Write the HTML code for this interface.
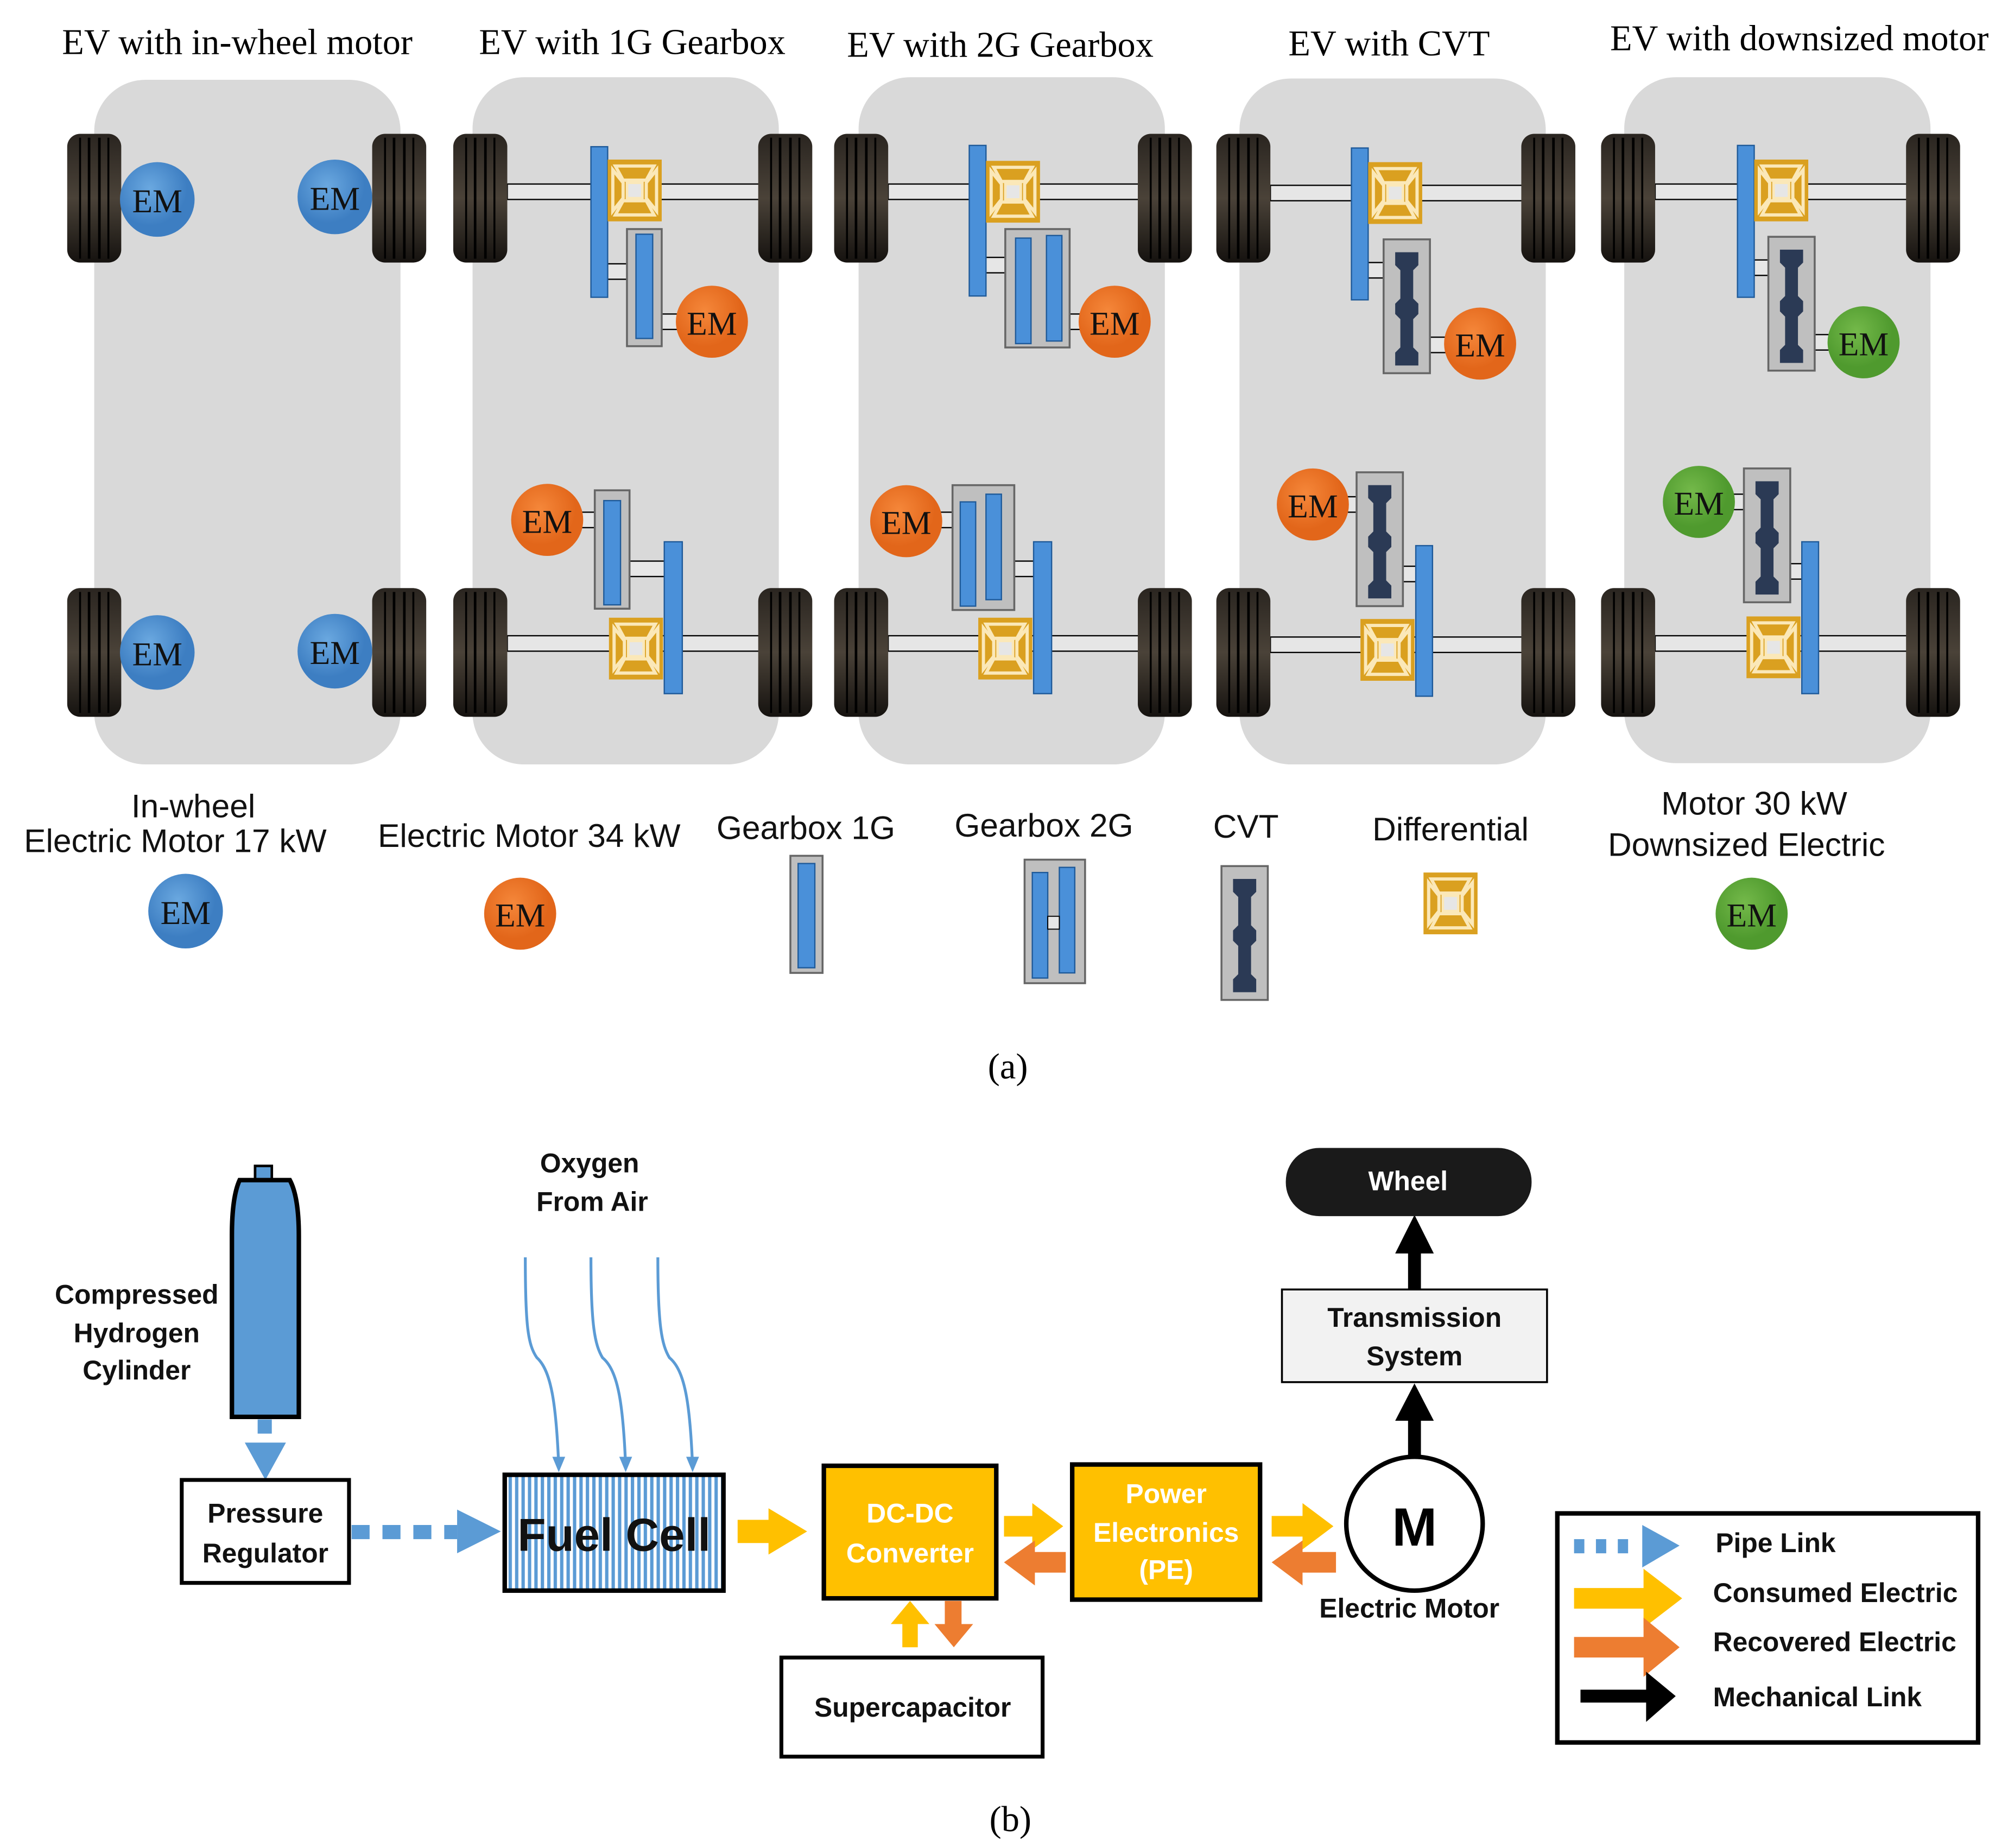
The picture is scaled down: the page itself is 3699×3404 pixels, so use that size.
<!DOCTYPE html>
<html><head><meta charset="utf-8"><style>
html,body{margin:0;padding:0;background:#fff}
svg{display:block}
.t{font-family:"Liberation Serif",serif;font-size:28px;fill:#000}
.s{font-family:"Liberation Sans",sans-serif;font-size:25.5px;fill:#111}
.b{font-family:"Liberation Sans Narrow","Liberation Sans",sans-serif;font-weight:bold;fill:#111}
.em{font-family:"Liberation Serif",serif;font-size:26px;fill:#111;text-anchor:middle}
</style></head><body>
<svg width="3699" height="3404" viewBox="0 0 1560 1436" xmlns="http://www.w3.org/2000/svg">
<defs>
<linearGradient id="tg" x1="0" y1="0" x2="0" y2="1"><stop offset="0" stop-color="#2a2520"/><stop offset="0.5" stop-color="#4a4238"/><stop offset="1" stop-color="#15120f"/></linearGradient>
<g id="wheel"><rect x="0" y="0" width="42" height="100" rx="10" fill="url(#tg)"/>
<line x1="10" y1="3" x2="10" y2="97" stroke="#000" stroke-width="1.5"/><line x1="17" y1="3" x2="17" y2="97" stroke="#000" stroke-width="2"/><line x1="25" y1="3" x2="25" y2="97" stroke="#000" stroke-width="2"/><line x1="32" y1="3" x2="32" y2="97" stroke="#000" stroke-width="1.5"/></g>
<g id="diff"><rect width="42" height="48" fill="#daa020"/><path d="M6 5H36L30 16H12Z M6 43H36L30 32H12Z M4 8L12 18V30L4 40Z M38 8L30 18V30L38 40Z" fill="none" stroke="#fbe8b8" stroke-width="2.5"/><rect x="15" y="18" width="12" height="12" fill="#e6e6e6" stroke="#fbe8b8" stroke-width="2"/></g>
<g id="cvt"><rect width="36" height="104" fill="#bfbfbf" stroke="#666" stroke-width="1.5"/><path d="M9 10h18v10l-4 4v22l4 4v8l-4 4v22l4 4v10H9v-10l4-4V62l-4-4v-8l4-4V24l-4-4z" fill="#2b3a55"/></g>
<radialGradient id="gb" cx="0.4" cy="0.35"><stop offset="0" stop-color="#6aa8e0"/><stop offset="1" stop-color="#3d7ec2"/></radialGradient>
<radialGradient id="go" cx="0.4" cy="0.35"><stop offset="0" stop-color="#f5873a"/><stop offset="1" stop-color="#e2661a"/></radialGradient>
<radialGradient id="gg" cx="0.4" cy="0.35"><stop offset="0" stop-color="#74b94a"/><stop offset="1" stop-color="#4f9a2e"/></radialGradient>
</defs>
<text class="t" x="48" y="42">EV with in-wheel motor</text>
<text class="t" x="372" y="42">EV with 1G Gearbox</text>
<text class="t" x="658" y="44">EV with 2G Gearbox</text>
<text class="t" x="1001" y="43">EV with CVT</text>
<text class="t" x="1251" y="39">EV with downsized motor</text>
<g fill="#d9d9d9">
<rect x="73" y="62" width="238" height="532" rx="40"/>
<rect x="367" y="60" width="238" height="534" rx="40"/>
<rect x="667" y="60" width="238" height="534" rx="40"/>
<rect x="963" y="61" width="238" height="533" rx="40"/>
<rect x="1262" y="60" width="238" height="533" rx="40"/>
</g>
<g fill="#e6e6e6" stroke="#000" stroke-width="1">
<rect x="394" y="143" width="196" height="12"/><rect x="394" y="494" width="196" height="12"/>
<rect x="690" y="143" width="196" height="12"/><rect x="690" y="494" width="196" height="12"/>
<rect x="987" y="144" width="196" height="12"/><rect x="987" y="495" width="196" height="12"/>
<rect x="1286" y="143" width="196" height="12"/><rect x="1286" y="494" width="196" height="12"/>
</g>
<use href="#wheel" x="52" y="104"/><use href="#wheel" x="289" y="104"/><use href="#wheel" x="52" y="457"/><use href="#wheel" x="289" y="457"/>
<use href="#wheel" x="352" y="104"/><use href="#wheel" x="589" y="104"/><use href="#wheel" x="352" y="457"/><use href="#wheel" x="589" y="457"/>
<use href="#wheel" x="648" y="104"/><use href="#wheel" x="884" y="104"/><use href="#wheel" x="648" y="457"/><use href="#wheel" x="884" y="457"/>
<use href="#wheel" x="945" y="104"/><use href="#wheel" x="1182" y="104"/><use href="#wheel" x="945" y="457"/><use href="#wheel" x="1182" y="457"/>
<use href="#wheel" x="1244" y="104"/><use href="#wheel" x="1481" y="104"/><use href="#wheel" x="1244" y="457"/><use href="#wheel" x="1481" y="457"/>
<g fill="#e6e6e6" stroke="#000" stroke-width="1">
<rect x="472" y="205" width="16" height="12"/><rect x="507" y="244" width="20" height="12"/>
<rect x="450" y="398" width="14" height="12"/><rect x="489" y="436" width="28" height="12"/>
<rect x="766" y="200" width="16" height="12"/><rect x="826" y="244" width="16" height="12"/>
<rect x="728" y="398" width="14" height="12"/><rect x="788" y="436" width="16" height="12"/>
<rect x="1063" y="204" width="14" height="12"/><rect x="1110" y="262" width="16" height="12"/>
<rect x="1044" y="386" width="12" height="12"/><rect x="1090" y="440" width="12" height="12"/>
<rect x="1363" y="202" width="14" height="12"/><rect x="1409" y="260" width="16" height="12"/>
<rect x="1344" y="384" width="12" height="12"/><rect x="1390" y="438" width="12" height="12"/>
</g>
<g fill="#bfbfbf" stroke="#666" stroke-width="1.5">
<rect x="487" y="178" width="27" height="91"/><rect x="462" y="381" width="27" height="92"/>
<rect x="781" y="178" width="50" height="92"/><rect x="740" y="377" width="48" height="97"/>
</g>
<use href="#cvt" x="1075" y="186"/><use href="#cvt" x="1054" y="367"/>
<use href="#cvt" x="1374" y="184"/><use href="#cvt" x="1355" y="364"/>
<g fill="#4a90d9" stroke="#1f5a99" stroke-width="1">
<rect x="459" y="114" width="13" height="117"/><rect x="494" y="182" width="13" height="81"/>
<rect x="516" y="421" width="14" height="118"/><rect x="469" y="389" width="13" height="81"/>
<rect x="753" y="113" width="13" height="117"/><rect x="789" y="185" width="12" height="82"/><rect x="813" y="183" width="12" height="82"/>
<rect x="803" y="421" width="14" height="118"/><rect x="746" y="390" width="12" height="81"/><rect x="766" y="384" width="12" height="82"/>
<rect x="1050" y="115" width="13" height="118"/><rect x="1100" y="424" width="13" height="117"/>
<rect x="1350" y="113" width="13" height="118"/><rect x="1400" y="421" width="13" height="118"/>
</g>
<use href="#diff" x="472" y="124"/><use href="#diff" x="473" y="480"/>
<use href="#diff" x="766" y="125"/><use href="#diff" x="760" y="480"/>
<use href="#diff" x="1063" y="126"/><use href="#diff" x="1057" y="481"/>
<use href="#diff" x="1363" y="124"/><use href="#diff" x="1357" y="479"/>
<g fill="url(#gb)"><circle cx="122" cy="155" r="29"/><circle cx="260" cy="153" r="29"/><circle cx="122" cy="507" r="29"/><circle cx="260" cy="506" r="29"/><circle cx="144" cy="708" r="29"/></g>
<g fill="url(#go)"><circle cx="553" cy="250" r="28"/><circle cx="425" cy="404" r="28"/><circle cx="866" cy="250" r="28"/><circle cx="704" cy="405" r="28"/><circle cx="1150" cy="267" r="28"/><circle cx="1020" cy="392" r="28"/><circle cx="404" cy="710" r="28"/></g>
<g fill="url(#gg)"><circle cx="1448" cy="266" r="28"/><circle cx="1320" cy="390" r="28"/><circle cx="1361" cy="710" r="28"/></g>
<g class="em">
<text x="122" y="165">EM</text><text x="260" y="163">EM</text><text x="122" y="517">EM</text><text x="260" y="516">EM</text><text x="144" y="718">EM</text>
<text x="553" y="260">EM</text><text x="425" y="414">EM</text><text x="866" y="260">EM</text><text x="704" y="415">EM</text><text x="1150" y="277">EM</text><text x="1020" y="402">EM</text><text x="404" y="720">EM</text>
<text x="1448" y="276">EM</text><text x="1320" y="400">EM</text><text x="1361" y="720">EM</text>
</g>
<text class="s" x="150" y="635" text-anchor="middle">In-wheel</text>
<text class="s" x="136" y="662" text-anchor="middle">Electric Motor 17 kW</text>
<text class="s" x="411" y="658" text-anchor="middle">Electric Motor 34 kW</text>
<text class="s" x="626" y="652" text-anchor="middle">Gearbox 1G</text>
<text class="s" x="811" y="650" text-anchor="middle">Gearbox 2G</text>
<text class="s" x="968" y="651" text-anchor="middle">CVT</text>
<text class="s" x="1127" y="653" text-anchor="middle">Differential</text>
<text class="s" x="1363" y="633" text-anchor="middle">Motor 30 kW</text>
<text class="s" x="1357" y="665" text-anchor="middle">Downsized Electric</text>
<rect x="614" y="665" width="25" height="91" fill="#bfbfbf" stroke="#666" stroke-width="1.5"/>
<rect x="620" y="671" width="13" height="81" fill="#4a90d9" stroke="#1f5a99"/>
<rect x="796" y="668" width="47" height="96" fill="#bfbfbf" stroke="#666" stroke-width="1.5"/>
<rect x="802" y="678" width="12" height="82" fill="#4a90d9" stroke="#1f5a99"/><rect x="823" y="674" width="12" height="82" fill="#4a90d9" stroke="#1f5a99"/>
<rect x="814" y="712" width="9" height="10" fill="#e6e6e6" stroke="#000" stroke-width="0.8"/>
<use href="#cvt" x="949" y="673"/>
<use href="#diff" x="1106" y="678"/>
<text class="t" x="783" y="838" text-anchor="middle">(a)</text>
<text class="t" x="785" y="1423" text-anchor="middle">(b)</text>

<g class="b" font-size="21" text-anchor="middle">
<text x="106" y="1013">Compressed</text><text x="106" y="1043">Hydrogen</text><text x="106" y="1072">Cylinder</text>
<text x="458" y="911">Oxygen</text><text x="460" y="941">From Air</text>
</g>
<rect x="198" y="906" width="13" height="12" fill="#5b9bd5" stroke="#000" stroke-width="2"/>
<path d="M186 917H225Q232 930 232 960V1101H180V960Q180 930 186 917Z" fill="#5b9bd5" stroke="#000" stroke-width="3.5"/>
<rect x="200" y="1103" width="11" height="11" fill="#5b9bd5"/>
<path d="M190 1121H222L206 1150Z" fill="#5b9bd5"/>
<rect x="141" y="1150" width="130" height="80" fill="#fff" stroke="#000" stroke-width="3"/>
<g class="b" font-size="21" text-anchor="middle"><text x="206" y="1183">Pressure</text><text x="206" y="1214">Regulator</text></g>
<g fill="#5b9bd5"><rect x="273" y="1185" width="14" height="11"/><rect x="297" y="1185" width="14" height="11"/><rect x="321" y="1185" width="14" height="11"/><rect x="345" y="1185" width="10" height="11"/><path d="M355 1173L389 1190L355 1207Z"/></g>
<g fill="none" stroke="#5b9bd5" stroke-width="2.2">
<path d="M408 977C408 1030 410 1045 417 1055C428 1065 432 1090 434 1140"/>
<path d="M459 977C459 1030 462 1045 468 1055C480 1065 484 1090 486 1140"/>
<path d="M511 977C511 1030 514 1045 520 1055C532 1065 536 1090 538 1140"/>
</g>
<g fill="#5b9bd5"><path d="M429 1132h10l-5 12z"/><path d="M481 1132h10l-5 12z"/><path d="M533 1132h10l-5 12z"/></g>
<defs><pattern id="vs" width="5" height="10" patternUnits="userSpaceOnUse"><rect width="5" height="10" fill="#fff"/><rect width="2.6" height="10" fill="#5b9bd5"/></pattern></defs>
<rect x="392" y="1146" width="170" height="90" fill="url(#vs)" stroke="#000" stroke-width="3.5"/>
<text class="b" x="477" y="1205" font-size="36" text-anchor="middle">Fuel Cell</text>
<path d="M573 1181H597V1172L627 1190L597 1208V1199H573Z" fill="#ffc000"/>
<rect x="640" y="1139" width="134" height="103" fill="#ffc000" stroke="#000" stroke-width="3.5"/>
<g class="b" font-size="21" text-anchor="middle" style="fill:#fff"><text x="707" y="1183">DC-DC</text><text x="707" y="1214">Converter</text></g>
<rect x="833" y="1138" width="146" height="105" fill="#ffc000" stroke="#000" stroke-width="3.5"/>
<g class="b" font-size="21" text-anchor="middle" style="fill:#fff"><text x="906" y="1168">Power</text><text x="906" y="1198">Electronics</text><text x="906" y="1227">(PE)</text></g>
<path d="M780 1178H802V1168L826 1186L802 1204V1194H780Z" fill="#ffc000"/>
<path d="M828 1206H804V1197L780 1214L804 1232V1222H828Z" fill="#ed7d31"/>
<path d="M988 1178H1012V1168L1036 1186L1012 1204V1194H988Z" fill="#ffc000"/>
<path d="M1038 1206H1012V1197L988 1214L1012 1232V1222H1038Z" fill="#ed7d31"/>
<path d="M701 1280V1262H692L707 1244L722 1262H713V1280Z" fill="#ffc000"/>
<path d="M734 1244V1262H726L741 1280L756 1262H747V1244Z" fill="#ed7d31"/>
<rect x="607" y="1288" width="203" height="77" fill="#fff" stroke="#000" stroke-width="3"/>
<text class="b" x="709" y="1334" font-size="21" text-anchor="middle">Supercapacitor</text>
<ellipse cx="1099" cy="1184" rx="53" ry="52" fill="#fff" stroke="#000" stroke-width="3.5"/>
<text x="1099" y="1201" font-family="Liberation Sans,sans-serif" font-weight="bold" font-size="42" text-anchor="middle">M</text>
<text class="b" x="1095" y="1257" font-size="21" text-anchor="middle">Electric Motor</text>
<rect x="1094" y="1100" width="10" height="32" fill="#000"/><path d="M1084 1104L1099 1075L1114 1104Z" fill="#000"/>
<rect x="996" y="1002" width="206" height="72" fill="#f2f2f2" stroke="#000" stroke-width="1.5"/>
<g class="b" font-size="21" text-anchor="middle"><text x="1099" y="1031">Transmission</text><text x="1099" y="1061">System</text></g>
<rect x="1094" y="970" width="10" height="32" fill="#000"/><path d="M1084 974L1099 944L1114 974Z" fill="#000"/>
<rect x="999" y="892" width="191" height="53" rx="26" fill="#1a1a1a"/>
<text class="b" x="1094" y="925" font-size="21" text-anchor="middle" style="fill:#fff">Wheel</text>
<rect x="1210" y="1176" width="327" height="178" fill="#fff" stroke="#000" stroke-width="3.5"/>
<g fill="#5b9bd5"><rect x="1223" y="1196" width="8" height="11"/><rect x="1240" y="1196" width="8" height="11"/><rect x="1257" y="1196" width="8" height="11"/><path d="M1276 1185L1305 1201L1276 1218Z"/></g>
<path d="M1223 1234H1277V1219L1307 1242L1277 1265V1250H1223Z" fill="#ffc000"/>
<path d="M1223 1272H1277V1257L1305 1280L1277 1303V1288H1223Z" fill="#ed7d31"/>
<path d="M1228 1313H1279V1299L1302 1318L1279 1338V1323H1228Z" fill="#000"/>
<g class="b" font-size="21"><text x="1333" y="1206">Pipe Link</text><text x="1331" y="1245">Consumed Electric</text><text x="1331" y="1283">Recovered Electric</text><text x="1331" y="1326">Mechanical Link</text></g>
</svg>
</body></html>
